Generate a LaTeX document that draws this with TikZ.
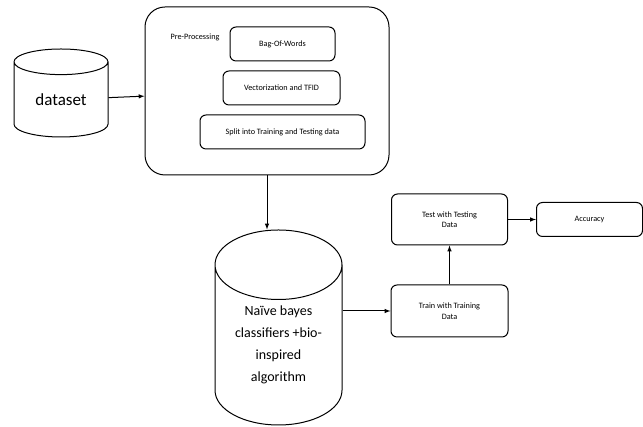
\documentclass[tikz,border=0pt]{standalone}
\usepackage{fontspec}
\setmainfont{Carlito}
\usetikzlibrary{shapes.geometric, positioning, arrows}
\tikzset{
	>=latex, % filled arrow heads
	every path/.style={line width=1pt}, % all lines a bit heavier
	box/.style={draw, rounded corners=6pt, align=center, font=\fontsize{8.2}{10.5}\selectfont, inner sep=2pt}, % small steps
	store/.style={draw, cylinder, shape border rotate=90, anchor=shape center, align=center, inner sep=0pt}, % data stores
 }
\begin{document}
\begin{tikzpicture}[x=1pt, y=1pt]
		\useasboundingbox (0,0) rectangle (643,427);
		\node[store, aspect=0.5, minimum width=94pt, minimum height=88pt, font=\fontsize{17}{20}\selectfont] (data) at (61,334) {dataset};
		\node[draw, rounded corners=20pt, minimum width=244pt, minimum height=168pt] (pre) at (267,336) {};
		\node[font=\fontsize{8.2}{10}\selectfont] (prelbl) at (195,390) {Pre-Processing};
		\node[box, minimum width=105pt, minimum height=34pt] (bow) at (282.5,383) {Bag-Of-Words};
		\node[box, minimum width=117pt, minimum height=34pt] (vec) at (281.5,339) {Vectorization and TFID};
		\node[box, minimum width=165pt, minimum height=34pt] (split) at (282.5,295) {Split into Training and Testing data};
		\node[store, aspect=0.8, minimum width=127pt, minimum height=195pt, font=\fontsize{14}{22}\selectfont] (nb) at (278.5,99.5) {Na\"ive bayes\\classifiers +bio-\\inspired\\algorithm};
		\node[box, minimum width=117pt, minimum height=52pt] (train) at (449.5,116) {Train with Training\\Data};
		\node[box, minimum width=116pt, minimum height=51pt, above=39pt of train] (test) {Test with Testing\\Data};
		\node[box, minimum width=106pt, minimum height=34pt, right=28pt of test] (acc) {Accuracy};
		
		\draw[->] (data) -- (pre);
		\draw[->] (pre.south) -- (pre.south |- nb.north);
		\draw[->] (train.west -| nb.east) -- (train.west);
		\draw[->] (train) -- (test);
		\draw[->] (test) -- (acc);
	\end{tikzpicture}
\end{document}
